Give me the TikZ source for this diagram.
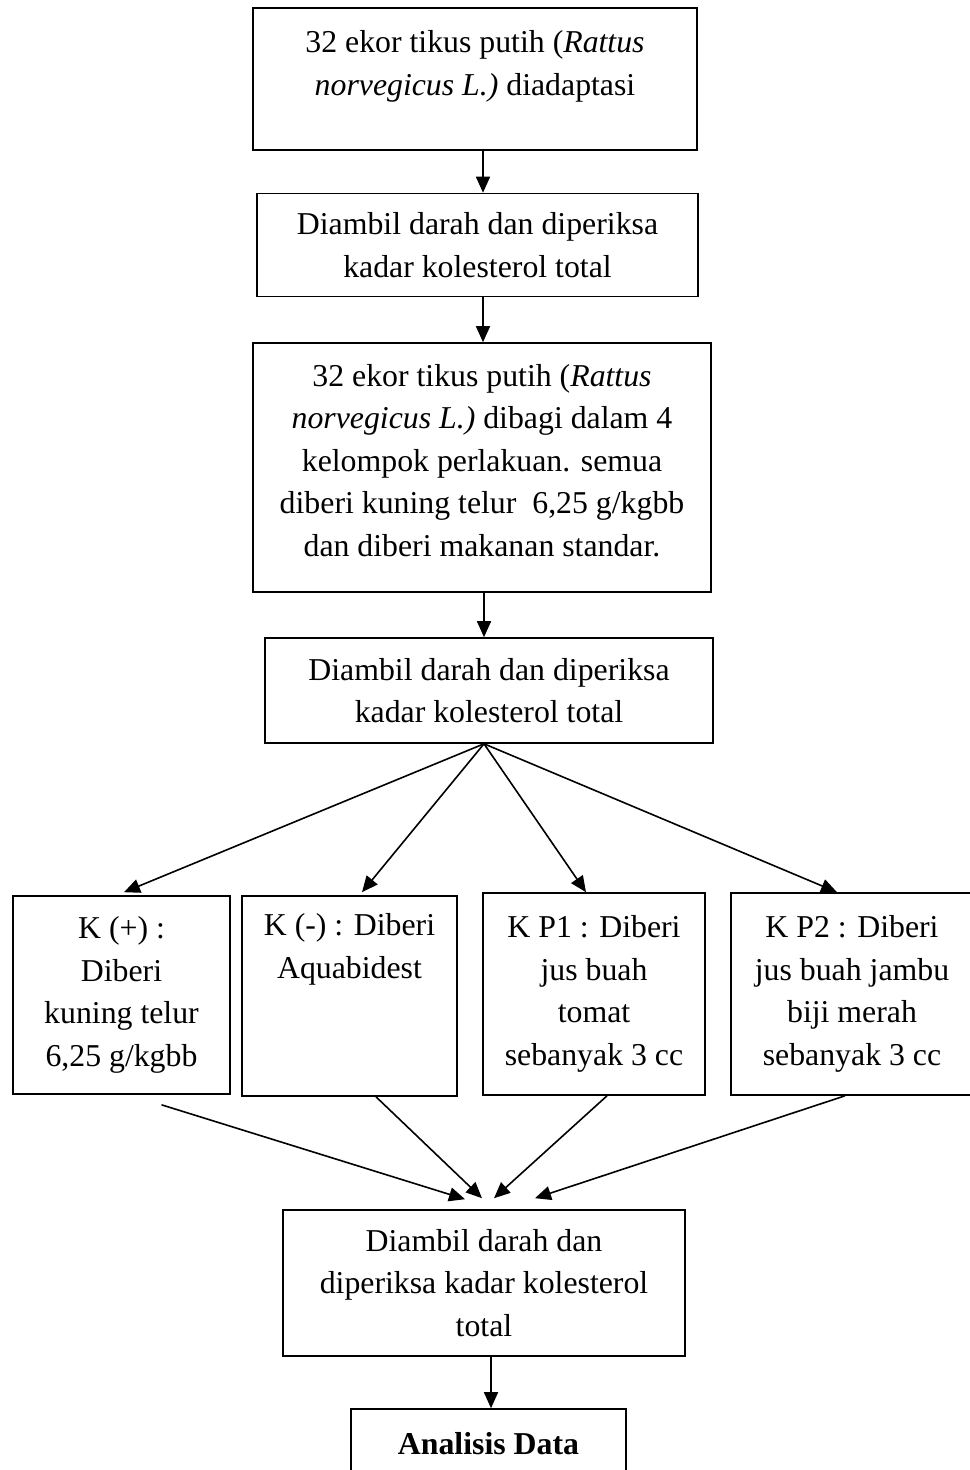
\documentclass[tikz,border=0pt]{standalone}
\usepackage{fontspec}
\setmainfont{Liberation Serif}
\usepackage{tikz}
\usetikzlibrary{arrows.meta,calc}

\begin{document}
\begin{tikzpicture}[
x=0.5pt,
y=-0.5pt,
every node/.style={font=\fontsize{15.9}{21.3}\selectfont},
rbox/.style={rectangle,draw,line width=0.8pt,align=center,inner sep=0pt},
rgroup/.style={rbox,minimum height=100pt},
rarrow/.style={draw,line width=0.8pt,-{Triangle[length=8pt,width=7pt]}}
]
\useasboundingbox (0,0) rectangle (969,1470);

\node[rbox,minimum width=222pt,minimum height=71pt] (b1) at (475,79) {32 ekor tikus putih (\textit{Rattus}\\\textit{norvegicus L.)} diadaptasi\\[-5pt]~};
\node[rbox,minimum width=220.5pt,minimum height=51.5pt] (b2) at (477.5,245) {Diambil darah dan diperiksa\\kadar kolesterol total};
\node[rbox,minimum width=229pt,minimum height=124.5pt] (b3) at (482,467.5) {32 ekor tikus putih (\textit{Rattus}\\\textit{norvegicus L.)} dibagi dalam 4\\kelompok perlakuan. semua\\diberi kuning telur~ 6,25 g/kgbb\\dan diberi makanan standar.\\[-14pt]~};
\node[rbox,minimum width=224pt,minimum height=52.5pt] (b4) at (489,690.5) {Diambil darah dan diperiksa\\kadar kolesterol total};

\node[rgroup,minimum width=108.5pt,minimum height=99pt] (kA) at (121.5,995) {K (+) :\\Diberi\\kuning telur\\6,25 g/kgbb};
\node[rgroup,minimum width=107.5pt] (kB) at (349.5,996) {K (-) : Diberi\\Aquabidest\\~\\[4pt]\vphantom{g}};
\node[rgroup,minimum width=111pt,minimum height=101pt] (kC) at (594,994) {K P1 : Diberi\\jus buah\\tomat\\sebanyak 3 cc};
\node[rgroup,minimum width=121pt,minimum height=101pt] (kD) at (852,994) {K P2 : Diberi\\jus buah jambu\\biji merah\\sebanyak 3 cc};

\node[rbox,minimum width=201pt,minimum height=73pt] (b5) at (484,1283) {Diambil darah dan\\diperiksa kadar kolesterol\\total};
\node[rbox,minimum width=137.5pt,minimum height=35pt] (b6) at (488.5,1444) {\textbf{Analisis Data}};

\draw[rarrow] ([xshift=4pt]b1.south) -- ([xshift=2.75pt]b2.north);
\draw[rarrow] ([xshift=2.75pt]b2.south) -- ([xshift=0.5pt]b3.north);
\draw[rarrow] ([xshift=1pt]b3.south) -- ([xshift=-2.5pt]b4.north);

\draw[rarrow] ([xshift=-2.5pt]b4.south) -- ([xshift=1.25pt,yshift=1.5pt]kA.north);
\draw[rarrow] ([xshift=-2.5pt]b4.south) -- ([xshift=6.25pt,yshift=1.5pt]kB.north);
\draw[rarrow] ([xshift=-2.5pt]b4.south) -- ([xshift=-4pt]kC.north);
\draw[rarrow] ([xshift=-2.5pt]b4.south) -- ([xshift=-7.5pt]kD.north);

\draw[rarrow] ([xshift=20pt,yshift=-5pt]kA.south) -- ([xshift=-9.5pt,yshift=5pt]b5.north);
\draw[rarrow] ([xshift=13.25pt]kB.south) -- ([xshift=-1pt,yshift=5.5pt]b5.north);
\draw[rarrow] ([xshift=6.5pt]kC.south) -- ([xshift=5pt,yshift=5.5pt]b5.north);
\draw[rarrow] ([xshift=-3.5pt]kD.south) -- ([xshift=25.5pt,yshift=5.5pt]b5.north);

\draw[rarrow] ([xshift=3.5pt]b5.south) -- ([xshift=1.25pt]b6.north);
\end{tikzpicture}
\end{document}
